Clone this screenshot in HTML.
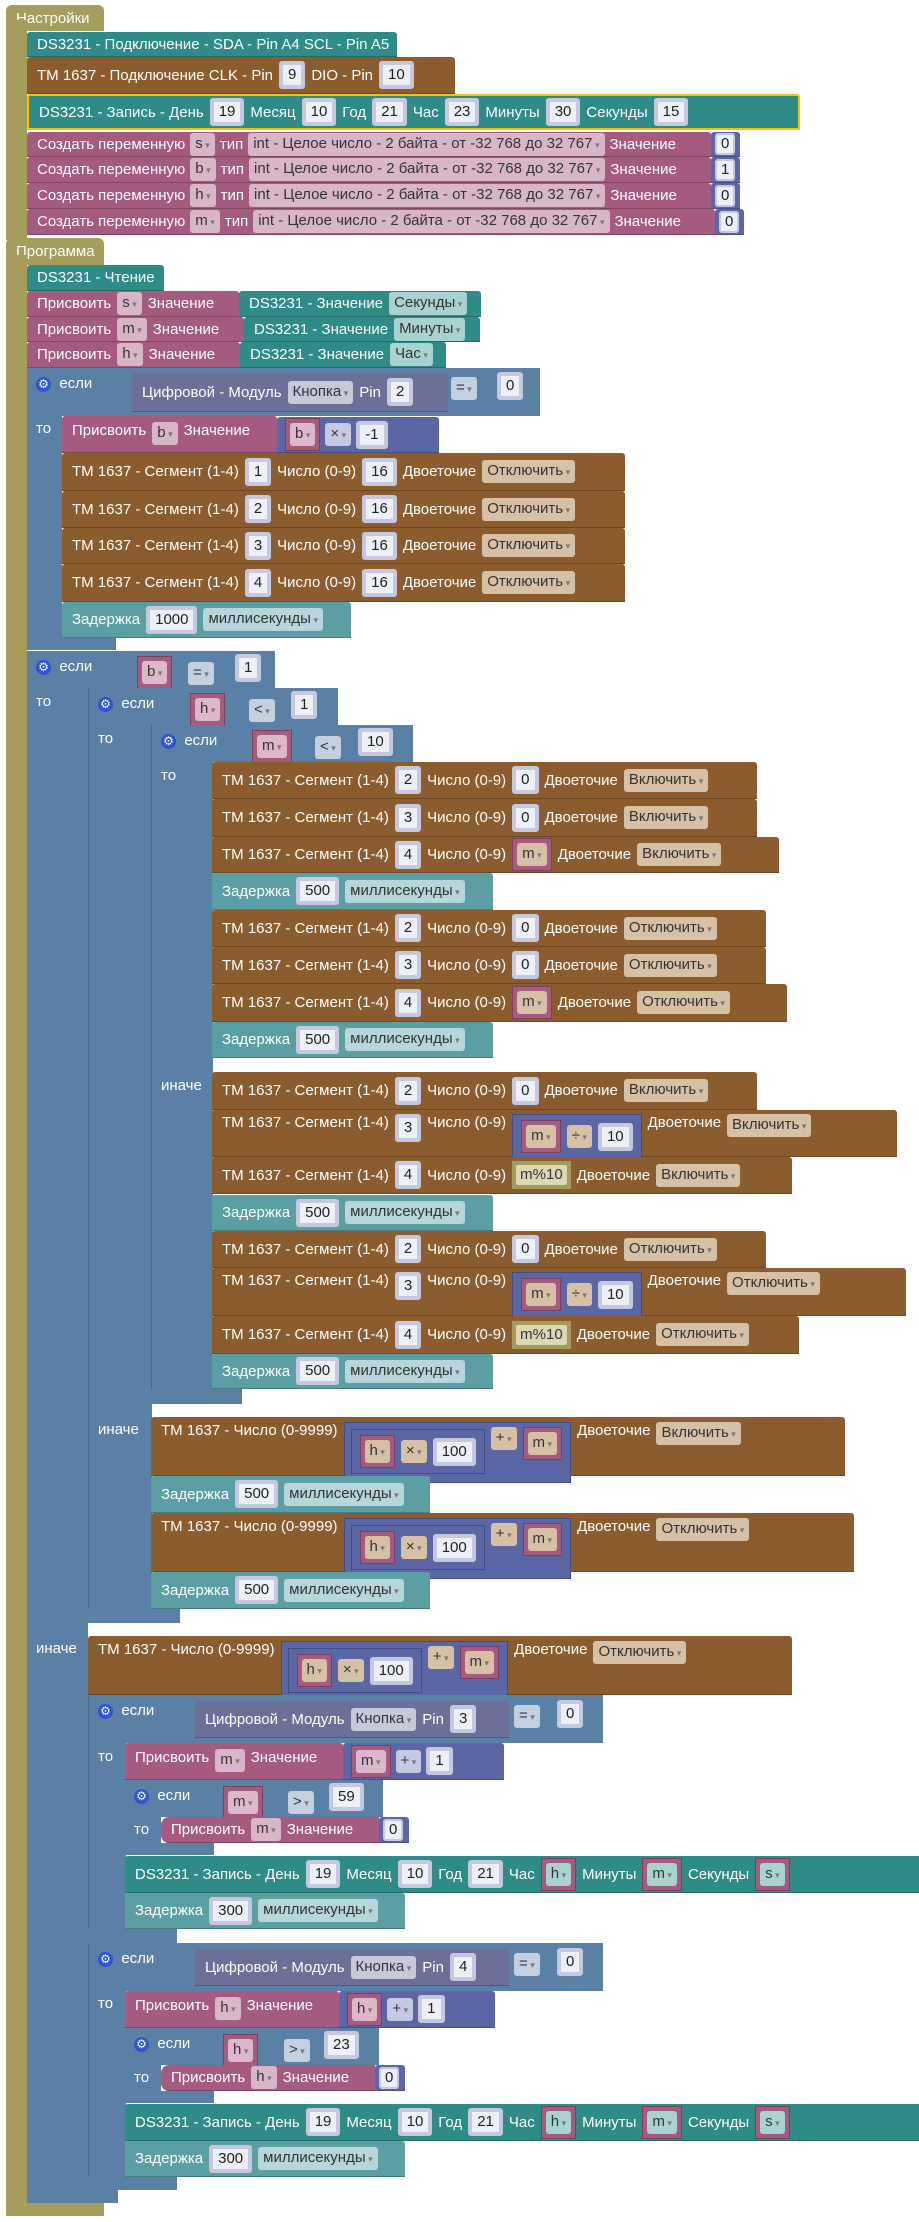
<!DOCTYPE html>
<html><head><meta charset="utf-8">
<style>
html,body{margin:0;padding:0;background:#fff;}
body{width:919px;height:2222px;overflow:hidden;position:relative;font-family:"Liberation Sans",Arial,sans-serif;font-size:15px;}
.b{position:absolute;box-sizing:border-box;display:flex;align-items:center;padding-left:10px;gap:6px;color:#fff;white-space:nowrap;border-bottom:1px solid rgba(0,0,0,.22);border-radius:3px 3px 0 0;}
.top{align-items:flex-start;padding-top:8px;}
.ol{background:#a59d5c;border:none;border-radius:6px 6px 0 0;}
.te{background:#2e8b88;}
.de{background:#5b9fa5;}
.br{background:#8b5d2e;}
.pk{background:#a55b80;}
.bl{background:#5b80a5;border-bottom:none;}
.mt{background:#5b67a5;}
.dg{background:#6c6f98;}
.n{display:inline-block;background:#eef0f7;color:#222;border:4px solid #c5c8df;border-radius:3px;padding:1px 5px;line-height:18px;}
.d{display:inline-block;background:rgba(255,255,255,.55);color:#333;border-radius:3px;padding:2px 5px;line-height:17px;}
.d:after{content:" ▾";font-size:9px;color:#777;}
.v{display:inline-flex;background:#a55b80;padding:4px;border:1px solid #7d3f5f;}
.v .d{background:#dcb8ca;}
.ma{display:inline-flex;align-items:center;gap:6px;background:#5b67a5;padding:4px 5px;border:1px solid #434d85;}
.ma .d{background:#c5c9e6;}
.pc{display:inline-block;background:#a39a5c;padding:4px;}
.pc span{display:inline-block;background:#dcd7b5;color:#333;padding:1px 4px;line-height:18px;border-radius:2px;}
.gear{display:inline-block;width:15px;height:15px;border-radius:50%;background:#2f52d6;color:#fff;font-size:12px;line-height:15px;text-align:center;}
.lab{position:absolute;color:#fff;font-size:15px;white-space:nowrap;}
.a{position:absolute;}
.yb{border:2px solid #f5c400;}
.te .d{background:#a9d3d1;}
.de .d{background:#b6d6d9;}
.br .d{background:#d6c0a6;}
.pk>.d{background:#d9b6c7;}
.dg .d{background:#c7c8d8;}
</style></head><body>

<div class="b ol" style="left:6px;top:5px;width:98px;height:26px;">Настройки</div>
<div class="a" style="left:6px;top:20px;width:21px;height:220px;background:#a59d5c;"></div>
<div class="b ol" style="left:6px;top:238px;width:98px;height:27px;">Программа</div>
<div class="a" style="left:6px;top:255px;width:21px;height:1961px;background:#a59d5c;"></div>
<div class="a" style="left:6px;top:2203px;width:98px;height:13px;background:#a59d5c;"></div>

<div class="b te" style="left:27px;top:32px;width:370px;height:25px;">DS3231 - Подключение - SDA - Pin A4 SCL - Pin A5</div>
<div class="b br" style="left:27px;top:57px;width:428px;height:37px;">TM 1637 - Подключение CLK - Pin <span class="n">9</span> DIO - Pin <span class="n">10</span></div>
<div class="b te yb" style="left:27px;top:94px;width:773px;height:36px;">DS3231 - Запись - День <span class="n">19</span> Месяц <span class="n">10</span> Год <span class="n">21</span> Час <span class="n">23</span> Минуты <span class="n">30</span> Секунды <span class="n">15</span></div>
<div class="b pk" style="left:27px;top:132px;width:684px;height:25px;gap:5px;">Создать переменную <span class="d">s</span> тип <span class="d">int - Целое число - 2 байта - от -32 768 до 32 767</span> Значение</div>
<div class="b mt" style="left:711px;top:132px;width:29px;height:25px;padding-left:4px;"><span class="n" style="border-width:2px;padding:0 4px;">0</span></div>
<div class="b pk" style="left:27px;top:157px;width:684px;height:26px;gap:5px;">Создать переменную <span class="d">b</span> тип <span class="d">int - Целое число - 2 байта - от -32 768 до 32 767</span> Значение</div>
<div class="b mt" style="left:711px;top:157px;width:29px;height:26px;padding-left:4px;"><span class="n" style="border-width:2px;padding:0 4px;">1</span></div>
<div class="b pk" style="left:27px;top:183px;width:684px;height:26px;gap:5px;">Создать переменную <span class="d">h</span> тип <span class="d">int - Целое число - 2 байта - от -32 768 до 32 767</span> Значение</div>
<div class="b mt" style="left:711px;top:183px;width:29px;height:26px;padding-left:4px;"><span class="n" style="border-width:2px;padding:0 4px;">0</span></div>
<div class="b pk" style="left:27px;top:209px;width:688px;height:26px;gap:5px;">Создать переменную <span class="d">m</span> тип <span class="d">int - Целое число - 2 байта - от -32 768 до 32 767</span> Значение</div>
<div class="b mt" style="left:715px;top:209px;width:29px;height:26px;padding-left:4px;"><span class="n" style="border-width:2px;padding:0 4px;">0</span></div>

<div class="b te" style="left:27px;top:265px;width:137px;height:26px;">DS3231 - Чтение</div>
<div class="b pk" style="left:27px;top:291px;width:212px;height:26px;">Присвоить <span class="d">s</span> Значение</div>
<div class="b te" style="left:239px;top:291px;width:242px;height:26px;">DS3231 - Значение <span class="d">Секунды</span></div>
<div class="b pk" style="left:27px;top:317px;width:217px;height:25px;">Присвоить <span class="d">m</span> Значение</div>
<div class="b te" style="left:244px;top:317px;width:236px;height:25px;">DS3231 - Значение <span class="d">Минуты</span></div>
<div class="b pk" style="left:27px;top:342px;width:213px;height:26px;">Присвоить <span class="d">h</span> Значение</div>
<div class="b te" style="left:240px;top:342px;width:206px;height:26px;">DS3231 - Значение <span class="d">Час</span></div>

<div class="a bl" style="left:27px;top:368px;width:513px;height:48px;background:#5b80a5;"></div>
<div class="a" style="left:27px;top:368px;width:35px;height:282px;background:#5b80a5;"></div>
<div class="a" style="left:27px;top:638px;width:89px;height:12px;background:#5b80a5;"></div>
<div class="lab" style="left:36px;top:375px;"><span class="gear">⚙</span>&nbsp; если</div>
<div class="lab" style="left:36px;top:420px;">то</div>
<div class="b dg" style="left:132px;top:373px;width:316px;height:39px;">Цифровой - Модуль <span class="d">Кнопка</span> Pin <span class="n">2</span></div>
<span class="a d" style="left:451px;top:377px;background:#c4cfe0;">=</span>
<span class="a n" style="left:497px;top:372px;">0</span>

<div class="b pk top" style="left:62px;top:416px;width:215px;height:37px;padding-top:6px;">Присвоить <span class="d">b</span> Значение</div>
<div class="b mt" style="left:277px;top:417px;width:162px;height:36px;padding-left:8px;gap:5px;"><span class="v"><span class="d">b</span></span><span class="d" style="background:#c5c9e6;">×</span><span class="n">-1</span></div>
<div class="b br" style="left:62px;top:453px;width:563px;height:38px;">TM 1637 - Сегмент (1-4) <span class="n">1</span> Число (0-9) <span class="n">16</span> Двоеточие <span class="d">Отключить</span></div>
<div class="b br" style="left:62px;top:491px;width:563px;height:37px;">TM 1637 - Сегмент (1-4) <span class="n">2</span> Число (0-9) <span class="n">16</span> Двоеточие <span class="d">Отключить</span></div>
<div class="b br" style="left:62px;top:528px;width:563px;height:36px;">TM 1637 - Сегмент (1-4) <span class="n">3</span> Число (0-9) <span class="n">16</span> Двоеточие <span class="d">Отключить</span></div>
<div class="b br" style="left:62px;top:564px;width:563px;height:38px;">TM 1637 - Сегмент (1-4) <span class="n">4</span> Число (0-9) <span class="n">16</span> Двоеточие <span class="d">Отключить</span></div>
<div class="b de" style="left:62px;top:602px;width:289px;height:36px;">Задержка <span class="n">1000</span> <span class="d">миллисекунды</span></div>

<div class="a" style="left:27px;top:651px;width:248px;height:37px;background:#5b80a5;"></div>
<div class="a" style="left:27px;top:651px;width:61px;height:1552px;background:#5b80a5;"></div>
<div class="a" style="left:27px;top:2190px;width:91px;height:13px;background:#5b80a5;"></div>
<div class="lab" style="left:36px;top:658px;"><span class="gear">⚙</span>&nbsp; если</div>
<div class="lab" style="left:36px;top:693px;">то</div>
<div class="lab" style="left:36px;top:1640px;">иначе</div>
<span class="a v" style="left:137px;top:656px;"><span class="d">b</span></span>
<span class="a d" style="left:188px;top:662px;background:#c4cfe0;">=</span>
<span class="a n" style="left:235px;top:654px;">1</span>

<div class="a" style="left:88px;top:688px;width:249px;height:37px;background:#5b80a5;border-left:1px solid #4a6a8c;"></div>
<div class="a" style="left:88px;top:688px;width:63px;height:935px;background:#5b80a5;border-left:1px solid #4a6a8c;"></div>
<div class="a" style="left:88px;top:1609px;width:92px;height:14px;background:#5b80a5;"></div>
<div class="lab" style="left:98px;top:695px;"><span class="gear">⚙</span>&nbsp; если</div>
<div class="lab" style="left:98px;top:730px;">то</div>
<div class="lab" style="left:98px;top:1421px;">иначе</div>
<span class="a v" style="left:190px;top:693px;"><span class="d">h</span></span>
<span class="a d" style="left:249px;top:699px;background:#c4cfe0;">&lt;</span>
<span class="a n" style="left:291px;top:691px;">1</span>

<div class="a" style="left:151px;top:725px;width:261px;height:37px;background:#5b80a5;border-left:1px solid #4a6a8c;"></div>
<div class="a" style="left:151px;top:725px;width:61px;height:679px;background:#5b80a5;border-left:1px solid #4a6a8c;"></div>
<div class="a" style="left:151px;top:1389px;width:91px;height:15px;background:#5b80a5;"></div>
<div class="lab" style="left:161px;top:732px;"><span class="gear">⚙</span>&nbsp; если</div>
<div class="lab" style="left:161px;top:767px;">то</div>
<div class="lab" style="left:161px;top:1077px;">иначе</div>
<span class="a v" style="left:252px;top:730px;"><span class="d">m</span></span>
<span class="a d" style="left:315px;top:736px;background:#c4cfe0;">&lt;</span>
<span class="a n" style="left:358px;top:728px;">10</span>

<div class="b br" style="left:212px;top:762px;width:545px;height:37px;">TM 1637 - Сегмент (1-4) <span class="n">2</span> Число (0-9) <span class="n">0</span> Двоеточие <span class="d">Включить</span></div>
<div class="b br" style="left:212px;top:799px;width:545px;height:38px;">TM 1637 - Сегмент (1-4) <span class="n">3</span> Число (0-9) <span class="n">0</span> Двоеточие <span class="d">Включить</span></div>
<div class="b br" style="left:212px;top:837px;width:567px;height:36px;">TM 1637 - Сегмент (1-4) <span class="n">4</span> Число (0-9) <span class="v"><span class="d">m</span></span> Двоеточие <span class="d">Включить</span></div>
<div class="b de" style="left:212px;top:873px;width:281px;height:37px;">Задержка <span class="n">500</span> <span class="d">миллисекунды</span></div>
<div class="b br" style="left:212px;top:910px;width:554px;height:37px;">TM 1637 - Сегмент (1-4) <span class="n">2</span> Число (0-9) <span class="n">0</span> Двоеточие <span class="d">Отключить</span></div>
<div class="b br" style="left:212px;top:947px;width:554px;height:37px;">TM 1637 - Сегмент (1-4) <span class="n">3</span> Число (0-9) <span class="n">0</span> Двоеточие <span class="d">Отключить</span></div>
<div class="b br" style="left:212px;top:984px;width:575px;height:38px;">TM 1637 - Сегмент (1-4) <span class="n">4</span> Число (0-9) <span class="v"><span class="d">m</span></span> Двоеточие <span class="d">Отключить</span></div>
<div class="b de" style="left:212px;top:1022px;width:281px;height:36px;">Задержка <span class="n">500</span> <span class="d">миллисекунды</span></div>

<div class="b br" style="left:212px;top:1072px;width:545px;height:38px;">TM 1637 - Сегмент (1-4) <span class="n">2</span> Число (0-9) <span class="n">0</span> Двоеточие <span class="d">Включить</span></div>
<div class="b br top" style="left:212px;top:1110px;width:685px;height:47px;padding-top:4px;">TM 1637 - Сегмент (1-4) <span class="n">3</span> Число (0-9) <span class="ma" style="padding:5px 8px;"><span class="v"><span class="d">m</span></span><span class="d">÷</span><span class="n">10</span></span> Двоеточие <span class="d">Включить</span></div>
<div class="b br" style="left:212px;top:1157px;width:580px;height:37px;">TM 1637 - Сегмент (1-4) <span class="n">4</span> Число (0-9) <span class="pc"><span>m%10</span></span> Двоеточие <span class="d">Включить</span></div>
<div class="b de" style="left:212px;top:1195px;width:281px;height:36px;">Задержка <span class="n">500</span> <span class="d">миллисекунды</span></div>
<div class="b br" style="left:212px;top:1231px;width:554px;height:37px;">TM 1637 - Сегмент (1-4) <span class="n">2</span> Число (0-9) <span class="n">0</span> Двоеточие <span class="d">Отключить</span></div>
<div class="b br top" style="left:212px;top:1268px;width:694px;height:48px;padding-top:4px;">TM 1637 - Сегмент (1-4) <span class="n">3</span> Число (0-9) <span class="ma" style="padding:5px 8px;"><span class="v"><span class="d">m</span></span><span class="d">÷</span><span class="n">10</span></span> Двоеточие <span class="d">Отключить</span></div>
<div class="b br" style="left:212px;top:1316px;width:587px;height:38px;">TM 1637 - Сегмент (1-4) <span class="n">4</span> Число (0-9) <span class="pc"><span>m%10</span></span> Двоеточие <span class="d">Отключить</span></div>
<div class="b de" style="left:212px;top:1354px;width:281px;height:35px;">Задержка <span class="n">500</span> <span class="d">миллисекунды</span></div>

<div class="b br top" style="left:151px;top:1417px;width:694px;height:59px;padding-top:5px;">TM 1637 - Число (0-9999) <span class="ma" style="align-items:flex-start;padding:4px 8px 8px 6px;"><span class="ma" style="padding:5px 8px;margin-top:2px;"><span class="v"><span class="d">h</span></span><span class="d">×</span><span class="n">100</span></span><span class="d">+</span><span class="v"><span class="d">m</span></span></span> Двоеточие <span class="d">Включить</span></div>
<div class="b de" style="left:151px;top:1476px;width:279px;height:37px;">Задержка <span class="n">500</span> <span class="d">миллисекунды</span></div>
<div class="b br top" style="left:151px;top:1513px;width:703px;height:59px;padding-top:5px;">TM 1637 - Число (0-9999) <span class="ma" style="align-items:flex-start;padding:4px 8px 8px 6px;"><span class="ma" style="padding:5px 8px;margin-top:2px;"><span class="v"><span class="d">h</span></span><span class="d">×</span><span class="n">100</span></span><span class="d">+</span><span class="v"><span class="d">m</span></span></span> Двоеточие <span class="d">Отключить</span></div>
<div class="b de" style="left:151px;top:1572px;width:279px;height:37px;">Задержка <span class="n">500</span> <span class="d">миллисекунды</span></div>

<div class="b br top" style="left:88px;top:1636px;width:704px;height:59px;padding-top:5px;">TM 1637 - Число (0-9999) <span class="ma" style="align-items:flex-start;padding:4px 8px 8px 6px;"><span class="ma" style="padding:5px 8px;margin-top:2px;"><span class="v"><span class="d">h</span></span><span class="d">×</span><span class="n">100</span></span><span class="d">+</span><span class="v"><span class="d">m</span></span></span> Двоеточие <span class="d">Отключить</span></div>

<div class="a" style="left:88px;top:1695px;width:514px;height:48px;background:#5b80a5;border-left:1px solid #4a6a8c;"></div>
<div class="a" style="left:88px;top:1695px;width:37px;height:248px;background:#5b80a5;border-left:1px solid #4a6a8c;"></div>
<div class="a" style="left:88px;top:1929px;width:89px;height:14px;background:#5b80a5;"></div>
<div class="lab" style="left:98px;top:1702px;"><span class="gear">⚙</span>&nbsp; если</div>
<div class="lab" style="left:98px;top:1748px;">то</div>
<div class="b dg" style="left:195px;top:1701px;width:314px;height:37px;">Цифровой - Модуль <span class="d">Кнопка</span> Pin <span class="n">3</span></div>
<span class="a d" style="left:514px;top:1705px;background:#c4cfe0;">=</span>
<span class="a n" style="left:557px;top:1700px;">0</span>
<div class="b pk top" style="left:125px;top:1743px;width:218px;height:37px;padding-top:6px;">Присвоить <span class="d">m</span> Значение</div>
<div class="b mt" style="left:343px;top:1743px;width:161px;height:37px;padding-left:8px;gap:5px;"><span class="v"><span class="d">m</span></span><span class="d" style="background:#c5c9e6;">+</span><span class="n">1</span></div>
<div class="a" style="left:125px;top:1780px;width:258px;height:37px;background:#5b80a5;"></div>
<div class="a" style="left:125px;top:1780px;width:36px;height:75px;background:#5b80a5;"></div>
<div class="a" style="left:125px;top:1843px;width:89px;height:12px;background:#5b80a5;"></div>
<div class="lab" style="left:134px;top:1787px;"><span class="gear">⚙</span>&nbsp; если</div>
<div class="lab" style="left:134px;top:1821px;">то</div>
<span class="a v" style="left:223px;top:1786px;"><span class="d">m</span></span>
<span class="a d" style="left:288px;top:1791px;background:#c4cfe0;">&gt;</span>
<span class="a n" style="left:329px;top:1783px;">59</span>
<div class="b pk" style="left:161px;top:1817px;width:218px;height:26px;border-radius:8px 0 0 8px;">Присвоить <span class="d">m</span> Значение</div>
<div class="b mt" style="left:379px;top:1817px;width:30px;height:26px;padding-left:4px;"><span class="n" style="border-width:2px;padding:0 4px;">0</span></div>
<div class="b te" style="left:125px;top:1856px;width:800px;height:37px;">DS3231 - Запись - День <span class="n">19</span> Месяц <span class="n">10</span> Год <span class="n">21</span> Час <span class="v"><span class="d">h</span></span> Минуты <span class="v"><span class="d">m</span></span> Секунды <span class="v"><span class="d">s</span></span></div>
<div class="b de" style="left:125px;top:1893px;width:280px;height:36px;">Задержка <span class="n">300</span> <span class="d">миллисекунды</span></div>

<div class="a" style="left:88px;top:1943px;width:514px;height:48px;background:#5b80a5;border-left:1px solid #4a6a8c;"></div>
<div class="a" style="left:88px;top:1943px;width:37px;height:247px;background:#5b80a5;border-left:1px solid #4a6a8c;"></div>
<div class="a" style="left:88px;top:2177px;width:89px;height:13px;background:#5b80a5;"></div>
<div class="lab" style="left:98px;top:1950px;"><span class="gear">⚙</span>&nbsp; если</div>
<div class="lab" style="left:98px;top:1995px;">то</div>
<div class="b dg" style="left:195px;top:1949px;width:314px;height:37px;">Цифровой - Модуль <span class="d">Кнопка</span> Pin <span class="n">4</span></div>
<span class="a d" style="left:514px;top:1953px;background:#c4cfe0;">=</span>
<span class="a n" style="left:557px;top:1948px;">0</span>
<div class="b pk top" style="left:125px;top:1991px;width:214px;height:37px;padding-top:6px;">Присвоить <span class="d">h</span> Значение</div>
<div class="b mt" style="left:339px;top:1991px;width:156px;height:37px;padding-left:8px;gap:5px;"><span class="v"><span class="d">h</span></span><span class="d" style="background:#c5c9e6;">+</span><span class="n">1</span></div>
<div class="a" style="left:125px;top:2028px;width:254px;height:37px;background:#5b80a5;"></div>
<div class="a" style="left:125px;top:2028px;width:36px;height:75px;background:#5b80a5;"></div>
<div class="a" style="left:125px;top:2091px;width:89px;height:12px;background:#5b80a5;"></div>
<div class="lab" style="left:134px;top:2035px;"><span class="gear">⚙</span>&nbsp; если</div>
<div class="lab" style="left:134px;top:2069px;">то</div>
<span class="a v" style="left:223px;top:2034px;"><span class="d">h</span></span>
<span class="a d" style="left:284px;top:2039px;background:#c4cfe0;">&gt;</span>
<span class="a n" style="left:324px;top:2031px;">23</span>
<div class="b pk" style="left:161px;top:2065px;width:214px;height:26px;border-radius:8px 0 0 8px;">Присвоить <span class="d">h</span> Значение</div>
<div class="b mt" style="left:375px;top:2065px;width:30px;height:26px;padding-left:4px;"><span class="n" style="border-width:2px;padding:0 4px;">0</span></div>
<div class="b te" style="left:125px;top:2104px;width:800px;height:37px;">DS3231 - Запись - День <span class="n">19</span> Месяц <span class="n">10</span> Год <span class="n">21</span> Час <span class="v"><span class="d">h</span></span> Минуты <span class="v"><span class="d">m</span></span> Секунды <span class="v"><span class="d">s</span></span></div>
<div class="b de" style="left:125px;top:2141px;width:280px;height:36px;">Задержка <span class="n">300</span> <span class="d">миллисекунды</span></div>

</body></html>
